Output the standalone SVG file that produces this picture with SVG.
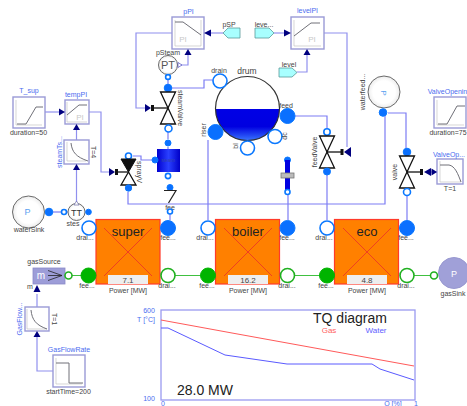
<svg xmlns="http://www.w3.org/2000/svg" width="467" height="406" viewBox="0 0 467 406">
<defs>
<linearGradient id="wat" x1="0" y1="0" x2="0" y2="1"><stop offset="0" stop-color="#0000e6"/><stop offset="0.55" stop-color="#0000e0"/><stop offset="1" stop-color="#3a78ff"/></linearGradient>
<linearGradient id="box" x1="0" y1="0" x2="1" y2="0"><stop offset="0" stop-color="#0000d0"/><stop offset="0.5" stop-color="#2a40ff"/><stop offset="1" stop-color="#0000c8"/></linearGradient>
<radialGradient id="gray" cx="0.5" cy="0.5" r="0.5"><stop offset="0.7" stop-color="#fff"/><stop offset="1" stop-color="#ececec"/></radialGradient>
</defs>
<style>
text{font-family:"Liberation Sans",Arial,sans-serif;text-anchor:middle;fill:#444;font-size:7px}
.b{fill:#4a6cf0;font-size:7px}
.k{fill:#444;font-size:7px}
.pi{fill:#c8c8c8;font-size:8px}
.blk{fill:#fff;stroke:#9a9ad6;stroke-width:1.4}
.ax{fill:none;stroke:#c4c4c4;stroke-width:.7}
.cv{fill:none;stroke:#707078;stroke-width:1}
.ctl{fill:none;stroke:#9090ee;stroke-width:1.2}
.pipe{fill:none;stroke:#7c7cf4;stroke-width:1.2}
.gas{fill:none;stroke:#40c040;stroke-width:1}
.tri{fill:#00007f;stroke:none}
.opn{fill:#fff;stroke:#0a78ff;stroke-width:1.6}
.fil{fill:#0a70ff;stroke:#0a78ff}
.gf{fill:#00b400;stroke:#00b400}
.go{fill:#fff;stroke:#20b020;stroke-width:1.6}
.hx{fill:#ff8000;stroke:#ff3a2a;stroke-width:1.2}
.x{stroke:#f04020;stroke-width:1;fill:none}
.num{fill:#eeeeee;stroke:none}
.v{fill:#fff;stroke:#111;stroke-width:1.3}
.stem{stroke:#111;stroke-width:1.3;fill:none}
.cy{fill:#a8ffff;stroke:#5a9a9a;stroke-width:.8}
.circ{fill:url(#gray);stroke:#6a6a6a;stroke-width:1}
</style>

<g id="connectors">
<path class="ctl" d="M172 33H136V108H145"/>
<path class="ctl" d="M179 65H188V51"/>
<path class="ctl" d="M223 33H211"/>
<path class="ctl" d="M274 33H288"/>
<path class="ctl" d="M297 72H307V51"/>
<path class="ctl" d="M324 33H347V147"/>
<path class="ctl" d="M45 112H60"/>
<path class="ctl" d="M89 112H101V172H111"/>
<path class="ctl" d="M76.500 140V128"/>
<path class="ctl" d="M76.500 204V167"/>
<path class="ctl" d="M37 307V294"/>
<path class="ctl" d="M53 371H37V334"/>
<path class="ctl" d="M437 172H431"/>
<path class="pipe" d="M168 88V80"/>
<path class="pipe" stroke-width="1.500" d="M168 88H204V80H213"/>
<path class="pipe" d="M168 132V139"/>
<path class="pipe" d="M133 156H141V160H152"/>
<path class="pipe" d="M168 147V150"/>
<path class="pipe" d="M128 192V204H385V116"/>
<path class="pipe" d="M208 140V220"/>
<path class="pipe" d="M295 116H327V128"/>
<path class="pipe" d="M327 175V220"/>
<path class="pipe" d="M288 195V220"/>
<path class="pipe" d="M388 113H406V148"/>
<path class="pipe" d="M407 196V220"/>
<path class="pipe" d="M170 214V220"/>
<path class="pipe" d="M53 212H61"/>
<path class="pipe" d="M67 212H69"/>
<path class="gas" d="M72 275.500H82"/>
<path class="gas" d="M175 275.500H201"/>
<path class="gas" d="M295 275.500H320"/>
<path class="gas" d="M414 275.500H431"/>
</g>

<g id="pPI">
<rect class="blk" x="172" y="17" width="32" height="32"/>
<path class="ax" d="M175 20V46H201V20"/>
<path class="cv" d="M175 22H183L201 35"/>
<text class="pi" x="183" y="42">PI</text>
<text class="b" x="188.500" y="14">pPI</text>
<polygon class="tri" points="204,33 211,29.500 211,36.500"/>
<polygon class="tri" points="188,49 184.500,55 191.500,55"/>
</g>
<g id="pSP">
<polygon class="cy" points="240,28 240,38 228,38 223,33 228,28"/>
<text class="k" x="229" y="26.500">pSP</text>
</g>
<g id="levelSP">
<polygon class="cy" points="255,28 269,28 274,33 269,38 255,38"/>
<text class="k" x="264" y="27">leve...</text>
</g>
<g id="levelPI">
<rect class="blk" x="291" y="17" width="33" height="32"/>
<path class="ax" d="M294 20V46H321"/>
<path class="cv" d="M294 36L311 23H320"/>
<text class="pi" x="312" y="42">PI</text>
<text class="b" x="307.500" y="13">levelPI</text>
<polygon class="tri" points="291,33 284,29.500 284,36.500"/>
<polygon class="tri" points="307,49 303.500,55 310.500,55"/>
</g>
<g id="level">
<polygon class="cy" points="279,68 292,68 297,72.500 292,77 279,77"/>
<text class="k" x="289" y="67">level</text>
</g>
<g id="pSteam">
<circle class="circ" cx="168" cy="65" r="9.500"/>
<text x="168" y="69" style="font-size:11px;fill:#555">PT</text>
<text class="k" x="168" y="54.500">pSteam</text>
<polygon points="178,62.500 182,65 178,67.500" fill="#fff" stroke="#5050c0" stroke-width=".7"/>
</g>
<g id="steamValve">
<circle class="opn" cx="168" cy="77" r="2.400"/>
<circle class="fil" cx="168" cy="88" r="3.800"/>
<polygon class="v" points="160.500,92 175.500,92 168,108"/>
<polygon class="v" points="160.500,124 175.500,124 168,108"/>
<path class="stem" d="M152 108H168"/>
<rect x="151" y="105" width="3" height="6" fill="#111"/>
<polygon class="tri" points="145,104 145,112 151,108"/>
<circle class="opn" cx="168.500" cy="128.500" r="3.500"/>
<text transform="translate(178 108) rotate(90)" class="k">steamValve</text>
</g>
<g id="superheaterVolume">
<circle class="fil" cx="168" cy="143" r="3"/>
<rect x="157" y="149" width="23" height="23" fill="url(#box)"/>
<circle class="fil" cx="155" cy="160" r="3"/>
<text x="168" y="162" style="fill:#3344aa;font-size:5px">steam</text>
<circle class="opn" cx="168" cy="176" r="2.600"/>
</g>
<g id="spray">
<circle class="opn" cx="128.500" cy="156" r="3"/>
<polygon points="121,159 136,159 128.500,172" fill="#111" stroke="#111"/>
<polygon class="v" points="121,185 136,185 128.500,172"/>
<path class="stem" d="M116 172H128.500"/>
<rect x="115" y="169" width="3" height="6" fill="#111"/>
<polygon class="tri" points="109,168 109,176 115,172"/>
<circle class="fil" cx="128.500" cy="188" r="3.200"/>
<text transform="translate(137 172) rotate(90)" class="k">sprayV</text>
</g>
<g id="zigzag">
<circle class="fil" cx="170" cy="187.500" r="3"/>
<path d="M164 190.500H176L168.500 203" fill="none" stroke="#222" stroke-width="1.200"/>
<text class="k" x="170" y="210">fee</text>
<circle class="opn" cx="170" cy="211.500" r="2.500"/>
</g>
<g id="T_sup">
<rect class="blk" x="13" y="97" width="32" height="31"/>
<path class="ax" d="M16 100V125H42"/>
<path class="cv" d="M17 124H26L36 107H43"/>
<text class="b" x="29" y="93">T_sup</text>
<text class="k" x="28.500" y="135">duration=50</text>
</g>
<g id="tempPI">
<rect class="blk" x="65" y="100" width="24" height="24"/>
<path class="ax" d="M67 102V122H87"/>
<path class="cv" d="M67 115L79 105H87"/>
<text class="pi" x="80" y="120">PI</text>
<text class="b" x="76" y="97">tempPI</text>
<polygon class="tri" points="65,112 59,108.500 59,115.500"/>
<polygon class="tri" points="76.500,124 73,130 80,130"/>
</g>
<g id="steamTs">
<rect class="blk" x="64" y="140" width="25" height="24"/>
<path class="ax" d="M67 142V161H86"/>
<path class="cv" d="M71 143C72 152 76 157 88 161"/>
<text transform="translate(62 152) rotate(-90)" class="b">steamTs...</text>
<text transform="translate(91 152) rotate(90)" class="k">T=4</text>
<polygon class="tri" points="76.500,164 73,170 80,170"/>
</g>
<g id="waterSink">
<circle class="circ" cx="28.500" cy="212" r="16"/>
<text x="27.500" y="215" style="fill:#58a0f0;font-size:9px">P</text>
<circle class="fil" cx="49" cy="212" r="3.800"/>
<text class="k" x="29" y="232">waterSink</text>
</g>
<g id="stes">
<circle class="opn" cx="64" cy="212" r="2.500"/>
<circle class="circ" cx="76.500" cy="212" r="8.500"/>
<text x="76.500" y="216" style="font-size:9px;fill:#333">TT</text>
<polygon points="76.500,201 74,205 79,205" fill="#fff" stroke="#6060a0" stroke-width=".6"/>
<circle class="fil" cx="88.500" cy="212" r="2.800"/>
<text class="k" x="73" y="226">stes</text>
</g>
<g id="drum">
<circle cx="247.500" cy="108.500" r="32" fill="#fff"/>
<path d="M215.500 109H279.500A32 32 0 0 1 215.500 109Z" fill="url(#wat)"/>
<circle cx="247.500" cy="108.500" r="32" fill="none" stroke="#333" stroke-width="1.200"/>
<text x="247" y="74" style="font-size:8.500px">drum</text>
<circle class="opn" cx="220" cy="81" r="7"/>
<text class="k" x="219" y="72.500">drain</text>
<circle class="fil" cx="215.500" cy="132" r="7.500"/>
<text transform="translate(206 130) rotate(-90)" class="k">riser</text>
<circle class="opn" cx="247.500" cy="148" r="7"/>
<text transform="translate(238 146) rotate(-90)" class="k">bl</text>
<circle class="opn" cx="275" cy="136.500" r="7"/>
<text transform="translate(287 136) rotate(-90)" class="k">dc</text>
<circle class="fil" cx="287.500" cy="116" r="7.500"/>
<text class="k" x="286" y="108">feed</text>
</g>
<g id="feedValve">
<circle class="opn" cx="327" cy="132" r="3.200"/>
<polygon class="v" points="319.500,136 334.500,136 327,152"/>
<polygon class="v" points="319.500,168 334.500,168 327,152"/>
<path class="stem" d="M327 152H343"/>
<rect x="340.500" y="149" width="3" height="6" fill="#111"/>
<polygon class="tri" points="351,147 351,157 344,152"/>
<circle class="fil" cx="327" cy="171.500" r="3.500"/>
<text transform="translate(317 152) rotate(-90)" class="k">feedValve</text>
</g>
<g id="downcomer">
<circle class="fil" cx="287.500" cy="160" r="3"/>
<rect x="285" y="160" width="5" height="30" fill="#0000e0"/>
<rect x="281" y="173" width="13" height="5" fill="#bbb" stroke="#777" stroke-width=".8"/>
<circle class="opn" cx="287.500" cy="192" r="2.500"/>
</g>
<g id="waterFeed">
<circle class="circ" cx="384" cy="92" r="16"/>
<text x="384" y="96" style="fill:#58a0f0;font-size:8px" transform="rotate(90 384 93)">P</text>
<circle class="fil" cx="383" cy="112.500" r="3.800"/>
<text transform="translate(365 92) rotate(-90)" class="k">waterfeed...</text>
</g>
<g id="valve">
<circle class="fil" cx="407" cy="152" r="3.800"/>
<polygon class="v" points="399.500,156 414.500,156 407,172"/>
<polygon class="v" points="399.500,188 414.500,188 407,172"/>
<path class="stem" d="M407 172H422"/>
<rect x="420" y="169" width="3" height="6" fill="#111"/>
<polygon class="tri" points="431,168 431,176 424,172"/>
<circle class="opn" cx="407" cy="192" r="3.500"/>
<text transform="translate(397 172) rotate(-90)" class="k">valve</text>
</g>
<g id="ValveOpening">
<rect class="blk" x="434" y="97" width="32" height="31"/>
<path class="ax" d="M437 100V125H464"/>
<path class="cv" d="M438 124H447L457 106H465"/>
<text class="b" x="447.500" y="93.500">ValveOpenin</text>
<text class="k" x="448" y="135">duration=75</text>
</g>
<g id="ValveOp">
<rect class="blk" x="437" y="159" width="26" height="25"/>
<path class="ax" d="M440 161V182H461"/>
<path class="cv" d="M440 165H449C455 166 458 174 461 182"/>
<text class="b" x="449" y="157">ValveOp...</text>
<text class="k" x="450" y="191">T=1</text>
<polygon class="tri" points="437,172 431.500,168.500 431.500,175.500"/>
</g>
<g id="super">
<rect class="hx" x="96" y="219.500" width="64" height="64.500"/>
<path class="x" d="M104 228L152 276M152 228L104 276"/>
<text x="128" y="236" style="font-size:13px;fill:#222">super</text>
<rect class="num" x="108" y="275" width="40" height="9"/>
<text x="128" y="283" style="font-size:8px">7.1</text>
<text x="128" y="293" style="font-size:7px">Power [MW]</text>
<circle class="opn" cx="89" cy="228" r="7"/>
<circle class="fil" cx="168" cy="228" r="7.500"/>
<circle class="gf" cx="88.500" cy="275.500" r="7.500"/>
<circle class="go" cx="168" cy="275.500" r="7"/>
<text x="85" y="240" class="k">drai...</text>
<text x="168" y="240" class="k">fee...</text>
<text x="87" y="288" class="k">fee...</text>
<text x="167" y="288" class="k">drai...</text>
</g>
<g id="boiler">
<rect class="hx" x="215.500" y="219.500" width="64" height="64.500"/>
<path class="x" d="M224 228L272 276M272 228L224 276"/>
<text x="248" y="236" style="font-size:13px;fill:#222">boiler</text>
<rect class="num" x="228" y="275" width="40" height="9"/>
<text x="248" y="283" style="font-size:8px">16.2</text>
<text x="248" y="293" style="font-size:7px">Power [MW]</text>
<circle class="opn" cx="208" cy="228" r="7"/>
<circle class="fil" cx="287.500" cy="228" r="7.500"/>
<circle class="gf" cx="208" cy="275.500" r="7.500"/>
<circle class="go" cx="287.500" cy="275.500" r="7"/>
<text x="205" y="240" class="k">drai...</text>
<text x="287" y="240" class="k">fee...</text>
<text x="207" y="288" class="k">fee...</text>
<text x="287" y="288" class="k">drai...</text>
</g>
<g id="eco">
<rect class="hx" x="334.500" y="219.500" width="64" height="64.500"/>
<path class="x" d="M343 228L391 276M391 228L343 276"/>
<text x="367" y="236" style="font-size:13px;fill:#222">eco</text>
<rect class="num" x="347" y="275" width="40" height="9"/>
<text x="367" y="283" style="font-size:8px">4.8</text>
<text x="367" y="293" style="font-size:7px">Power [MW]</text>
<circle class="opn" cx="327" cy="228" r="7"/>
<circle class="fil" cx="407" cy="228" r="7.500"/>
<circle class="gf" cx="327" cy="275.500" r="7.500"/>
<circle class="go" cx="407" cy="275.500" r="7"/>
<text x="324" y="240" class="k">drai...</text>
<text x="406" y="240" class="k">fee...</text>
<text x="326" y="288" class="k">fee...</text>
<text x="406" y="288" class="k">drai...</text>
</g>
<g id="gasSource">
<rect x="33" y="268" width="32" height="16" fill="#9d9dd8" stroke="#8a8ac8" stroke-width=".8"/>
<text x="41" y="279" style="fill:#fff;font-size:10px">m</text>
<path d="M48 270.500L62 275.500L48 280.500M48 275.500H62" fill="none" stroke="#222" stroke-width=".8"/>
<circle class="go" cx="68.500" cy="275.500" r="3.500" stroke-width="1.200"/>
<text class="k" x="44" y="264">gasSource</text>
<text class="k" x="30" y="289">m</text>
<polygon class="tri" points="37,285 33.500,292 40.500,292"/>
</g>
<g id="gasSink">
<circle cx="454" cy="273" r="15.500" fill="#a0a0d8" stroke="#9898d0"/>
<text x="454" y="277" style="fill:#fff;font-size:9px">P</text>
<circle class="go" cx="434" cy="275.500" r="3.500" stroke-width="1.200"/>
<text class="k" x="453" y="296">gasSink</text>
</g>
<g id="GasFlow">
<rect class="blk" x="25" y="307" width="24" height="24"/>
<path class="ax" d="M27 309V329H47"/>
<path class="cv" d="M31 310C32 320 36 325 47 329"/>
<text transform="translate(22 319) rotate(-90)" class="b">GasFlow...</text>
<text transform="translate(52 319) rotate(90)" class="k">T=1</text>
<polygon class="tri" points="37,331 33.500,337 40.500,337"/>
</g>
<g id="GasFlowRate">
<rect class="blk" x="53" y="355" width="32" height="32"/>
<path class="ax" d="M56 358V384H82"/>
<path class="cv" d="M56 363H69V383H83"/>
<text class="b" x="69" y="352">GasFlowRate</text>
<text class="k" x="68.500" y="394">startTime=200</text>
</g>
<g id="TQplot">
<rect x="161" y="310" width="254" height="90" fill="#fff" stroke="#9a9af0" stroke-width="1.300"/>
<polyline points="161,320 232,333 414,366" fill="none" stroke="#ff5a5a" stroke-width="1"/>
<polyline points="161,328 168,328 225,355 287,364 372,364 380,369 414,380" fill="none" stroke="#5a5aff" stroke-width="1"/>
<text x="350" y="323" style="font-size:14px;fill:#222">TQ diagram</text>
<text x="329" y="333" style="font-size:8px;fill:#ff6060">Gas</text>
<text x="376" y="333" style="font-size:8px;fill:#6060ff">Water</text>
<text x="205" y="395" style="font-size:14px;fill:#222">28.0 MW</text>
<text class="b" x="149" y="312.500">600</text>
<text class="b" x="146" y="322">T [°C]</text>
<text class="b" x="149" y="401">100</text>
<text class="b" x="163" y="405.500">0</text>
<text class="b" x="393" y="405.500">Q [%]</text>
<text class="b" x="416" y="405.500">1</text>
</g>
</svg>
